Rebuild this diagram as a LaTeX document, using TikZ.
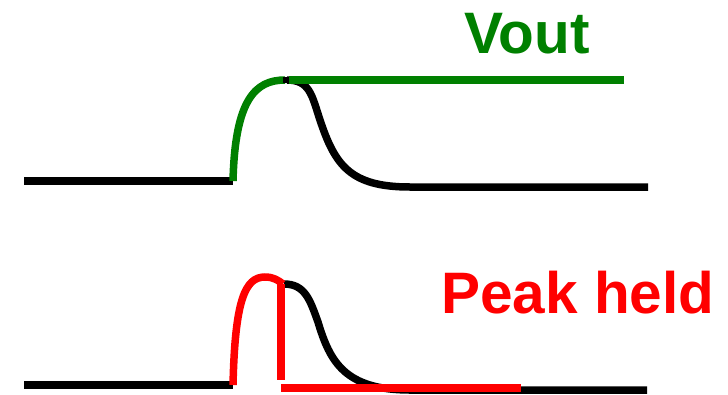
\documentclass[tikz,border=0pt]{standalone}
\usepackage{fontspec}
\setmainfont{Liberation Sans}
\usepackage{tikz}
\usepackage{xcolor}
\usetikzlibrary{positioning}
\definecolor{outgreen}{RGB}{0,128,0}
\newcommand{\biglabel}[1]{\fontsize{58.5}{62}\selectfont\bfseries #1}

\begin{document}
\begin{tikzpicture}[x=1pt,y=-1pt,line width=7.5pt,
    wave/.style={draw=black},
    track/.style={draw=outgreen},
    hold/.style={draw=red}]
    \useasboundingbox (0,0) rectangle (728,394);

    % Output that follows the pulse up and then stays
    \draw[wave] (24,181) -- (233,181);
    \draw[track] (233,181) .. controls (235,100) and (255,80) .. (285,80);
    \draw[wave] (287,77) -- (287,83);
    \draw[wave] (287,80) .. controls (310,80) and (312,96) .. (320,120)
        .. controls (335,165) and (350,187) .. (410,187) -- (648,187);
    \draw[track] (289,80) -- (624,80);
    \node[outgreen,anchor=base] (vout) at (527,53) {\biglabel{Vout}};

    % Pulse whose peak is held
    \draw[wave] (24,385) -- (233,385);
    \draw[wave] (284,284) .. controls (305,284) and (310,300) .. (318,322)
        .. controls (330,362) and (345,390) .. (410,390) -- (647,390);
    \draw[hold] (233,385) .. controls (235,300) and (245,277) .. (265,277)
        .. controls (273,277) and (278,280) .. (283,284);
    \draw[hold] (281,284) -- (281,380);
    \draw[hold] (281,388) -- (521,388);
    \node[red,anchor=base] (held) at (578,313) {\biglabel{Peak held}};
\end{tikzpicture}
\end{document}
